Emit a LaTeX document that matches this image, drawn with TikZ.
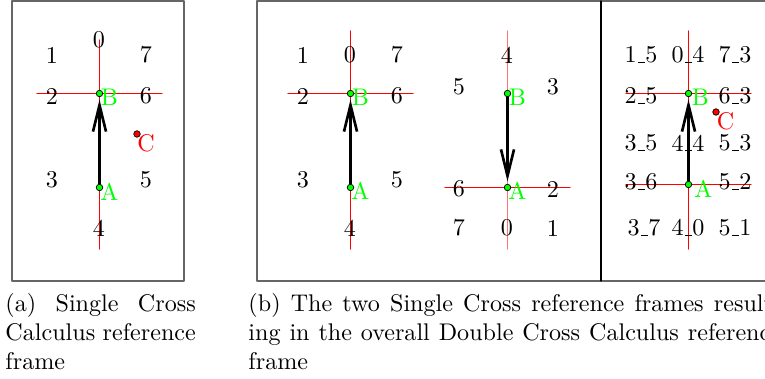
\documentclass[tikz,border=0pt]{standalone}
\usepackage{tikz}
\usetikzlibrary{arrows.meta,positioning}

\newcommand{\dcbar}{\kern.06em\vbox{\hrule width.3em}}

\begin{document}
\begin{tikzpicture}[x=0.415pt, y=-0.415pt, line cap=round, line join=round,
  frame/.style={draw=black!60, line width=0.45pt},
  axis/.style={red, line width=0.5pt},
  pt/.style={circle, draw=black, line width=0.3pt, fill=green, inner sep=0pt, minimum size=2.7pt},
  ptc/.style={pt, fill=red},
  ptname/.style={green, inner sep=0pt},
  cname/.style={red, inner sep=0pt},
  vec/.style={line width=0.85pt, -{Straight Barb[length=11pt,width=5.4pt,line width=1.1pt]}, shorten >=1pt},
  caption/.style={inner sep=0pt, anchor=north west, align=justify, text width=#1}]
  \useasboundingbox (0,0) rectangle (765,379);
  \clip (0,0) rectangle (765,379);

  % frames round the two sub-figures
  \draw[frame] (12,1) rectangle (184,281);
  \draw[frame] (257,1) rectangle (830,281);
  \draw[black, line width=0.5pt] (601,1) -- (601,281);

  % (a) single cross
  \draw[axis] (99.5,40) -- (99.5,249);
  \draw[axis] (37,93.5) -- (162,93.5);
  \node[pt] (aB) at (99.5,93.5) {};
  \node[pt] (aA) at (99.5,187.5) {};
  \node[ptc] (aC) at (137,134) {};
  \draw[vec] (aA) -- (aB);
  \node[ptname] (aBn) at ([shift={(10,4)}]aB) {B};
  \node[ptname] (aAn) at ([shift={(10,4)}]aA) {A};
  \node[cname] (aCn) at ([shift={(9,9)}]aC) {C};
  \node (a0) at (99,40) {0};
  \node (a1) at (52,55) {1};
  \node (a7) at (146,55) {7};
  \node (a2) at (52,96) {2};
  \node (a6) at (146,96) {6};
  \node (a3) at (52,180) {3};
  \node (a5) at (146,180) {5};
  \node (a4) at (99,228) {4};

  % (b) left: frame of A towards B
  \draw[axis] (350.5,31) -- (350.5,249);
  \draw[axis] (288,93.5) -- (413,93.5);
  \node[pt] (lB) at (350.5,93.5) {};
  \node[pt] (lA) at (350.5,187.5) {};
  \draw[vec] (lA) -- (lB);
  \node[ptname] (lBn) at ([shift={(10,4)}]lB) {B};
  \node[ptname] (lAn) at ([shift={(10,3)}]lA) {A};
  \node (l1) at (303,55) {1};
  \node (l0) at (350,55) {0};
  \node (l7) at (397,55) {7};
  \node (l2) at (303,96) {2};
  \node (l6) at (397,96) {6};
  \node (l3) at (303,180) {3};
  \node (l5) at (397,180) {5};
  \node (l4) at (350,228) {4};

  % (b) middle: frame of B towards A
  \draw[axis, red!55] (507.5,31) -- (507.5,249);
  \draw[axis] (445,187.5) -- (570,187.5);
  \node[pt] (mB) at (507.5,93.5) {};
  \node[pt] (mA) at (507.5,187.5) {};
  \draw[vec] (mB) -- (mA);
  \node[ptname] (mBn) at ([shift={(10,4)}]mB) {B};
  \node[ptname] (mAn) at ([shift={(10,3)}]mA) {A};
  \node (m4) at (507,55) {4};
  \node (m5) at (459,87) {5};
  \node (m3) at (553,87) {3};
  \node (m6) at (459,189) {6};
  \node (m2) at (553,189) {2};
  \node (m7) at (459,228) {7};
  \node (m0) at (507,228) {0};
  \node (m1) at (553,228) {1};

  % (b) right: double cross
  \draw[axis] (688.5,31) -- (688.5,249);
  \draw[axis] (626,93.5) -- (751,93.5);
  \draw[axis] (626,184.5) -- (751,184.5);
  \node[pt] (dB) at (688.5,93.5) {};
  \node[pt] (dA) at (688.5,184.5) {};
  \node[ptc] (dC) at (716,112) {};
  \draw[vec] (dA) -- (dB);
  \node[ptname] (dBn) at ([shift={(12,4)}]dB) {B};
  \node[ptname] (dAn) at ([shift={(15,4.5)}]dA) {A};
  \node[cname] (dCn) at ([shift={(9.5,9.5)}]dC) {C};
  \node (d15) at (641,55) {1\dcbar5};
  \node (d04) at (688,55) {0\dcbar4};
  \node (d73) at (735,55) {7\dcbar3};
  \node (d25) at (641,96) {2\dcbar5};
  \node (d63) at (735,96) {6\dcbar3};
  \node (d35) at (641,143) {3\dcbar5};
  \node (d44) at (688,143) {4\dcbar4};
  \node (d53) at (735,143) {5\dcbar3};
  \node (d36) at (641,182) {3\dcbar6};
  \node (d52) at (735,182) {5\dcbar2};
  \node (d37) at (644,228) {3\dcbar7};
  \node (d40) at (688,228) {4\dcbar0};
  \node (d51) at (735,228) {5\dcbar1};

  % captions
  \node[caption=79pt] (capa) at (5,293) {(a) Single Cross\linebreak Calculus reference\linebreak frame};
  \node[caption=221pt] (capb) at (248,293) {(b) The two Single Cross reference frames result-\linebreak ing in the overall Double Cross Calculus reference\linebreak frame};
\end{tikzpicture}
\end{document}
